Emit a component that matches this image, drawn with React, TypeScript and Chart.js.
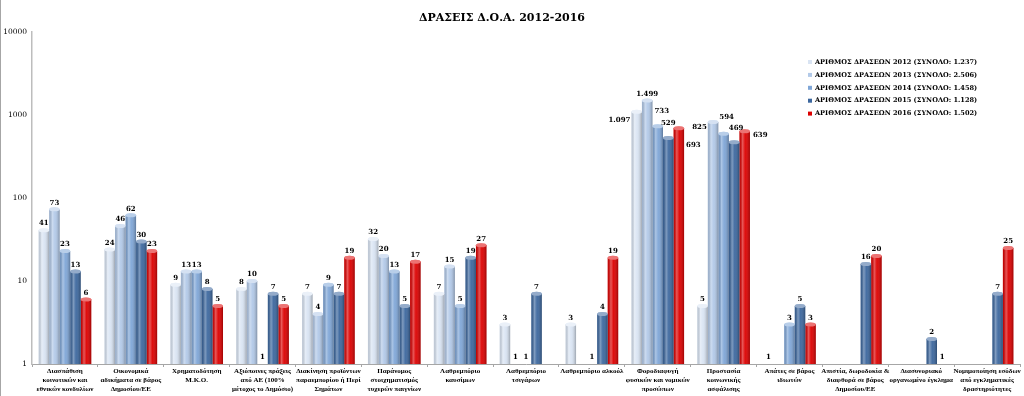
import React, { useEffect, useRef } from 'react';
import { Chart, registerables } from 'chart.js';

Chart.register(...registerables);

const title = 'ΔΡΑΣΕΙΣ Δ.Ο.Α. 2012-2016';

const categories: string[][] = [
  ['Διασπάθιση', 'κοινοτικών και', 'εθνικών κονδυλίων'],
  ['Οικονομικά', 'αδικήματα σε βάρος', 'Δημοσίου/ΕΕ'],
  ['Χρηματοδότηση', 'Μ.Κ.Ο.'],
  ['Αξιόποινες πράξεις', 'από ΑΕ (100%', 'μέτοχος το Δημόσιο)'],
  ['Διακίνηση προϊόντων', 'παραεμπορίου ή Περί', 'Σημάτων'],
  ['Παράνομος', 'στοιχηματισμός', 'τυχερών παιγνίων'],
  ['Λαθρεμπόριο', 'καυσίμων'],
  ['Λαθρεμπόριο', 'τσιγάρων'],
  ['Λαθρεμπόριο αλκοόλ'],
  ['Φοροδιαφυγή', 'φυσικών και νομικών', 'προσώπων'],
  ['Προστασία', 'κοινωνικής', 'ασφάλισης'],
  ['Απάτες σε βάρος', 'ιδιωτών'],
  ['Απιστία, δωροδοκία &', 'διαφθορά σε βάρος', 'Δημοσίου/ΕΕ'],
  ['Διασυνοριακό', 'οργανωμένο έγκλημα'],
  ['Νομιμοποίηση εσόδων', 'από εγκληματικές', 'δραστηριότητες'],
];

const seriesLabels = [
  'ΑΡΙΘΜΟΣ ΔΡΑΣΕΩΝ 2012 (ΣΥΝΟΛΟ: 1.237)',
  'ΑΡΙΘΜΟΣ ΔΡΑΣΕΩΝ 2013 (ΣΥΝΟΛΟ: 2.506)',
  'ΑΡΙΘΜΟΣ ΔΡΑΣΕΩΝ 2014 (ΣΥΝΟΛΟ: 1.458)',
  'ΑΡΙΘΜΟΣ ΔΡΑΣΕΩΝ 2015 (ΣΥΝΟΛΟ: 1.128)',
  'ΑΡΙΘΜΟΣ ΔΡΑΣΕΩΝ 2016 (ΣΥΝΟΛΟ: 1.502)',
];

const values2012 = [41, 24, 9, 8, 7, 32, 7, 3, 3, 1097, 5, 1, null, null, null];
const values2013 = [73, 46, 13, 10, 4, 20, 15, 1, null, 1499, 825, null, null, null, null];
const values2014 = [23, 62, 13, 1, 9, 13, 5, 1, 1, 733, 594, 3, null, null, null];
const values2015 = [13, 30, 8, 7, 7, 5, 19, 7, 4, 529, 469, 5, 16, 2, 7];
const values2016 = [6, 23, 5, 5, 19, 17, 27, null, 19, 693, 639, 3, 20, 1, 25];

const yTicks = [1, 10, 100, 1000, 10000];

const seriesColors = ['#d9e4f3', '#b2c9e8', '#7fa6d7', '#3c679e', '#dc0000'];

// label placement tweaks (style only), keyed by "category-dataset"
const labelPlacement: Record<string, { side: string; dx: number; dy: number }> = {
  '9-0': { side: 'left', dx: -1, dy: 9 },
  '9-2': { side: 'top', dx: 4, dy: -12 },
  '9-3': { side: 'top', dx: 0, dy: -11 },
  '9-4': { side: 'right', dx: 2, dy: 17 },
  '10-1': { side: 'left', dx: -1, dy: 5 },
  '10-2': { side: 'top', dx: 3, dy: -13 },
  '10-3': { side: 'top', dx: 2, dy: -11 },
  '10-4': { side: 'right', dx: 3, dy: 4 },
};

const fmt = (v: number) => String(v).replace(/\B(?=(\d{3})+(?!\d))/g, '.');

const decorPlugin = {
  id: 'decor',
  afterDatasetsDraw(chart: any) {
    const ctx = chart.ctx as CanvasRenderingContext2D;
    const area = chart.chartArea;
    // cylinder shading
    chart.data.datasets.forEach((ds: any, di: number) => {
      const meta = chart.getDatasetMeta(di);
      meta.data.forEach((el: any, i: number) => {
        const v = ds.data[i];
        if (v == null) return;
        const { x, y, base, width } = el.getProps(['x', 'y', 'base', 'width'], true);
        const h = base - y;
        if (h < 1) return;
        const l = x - width / 2;
        ctx.save();
        const g = ctx.createLinearGradient(l, 0, l + width, 0);
        g.addColorStop(0, 'rgba(0,0,0,0.10)');
        g.addColorStop(0.3, 'rgba(255,255,255,0.35)');
        g.addColorStop(0.55, 'rgba(255,255,255,0.05)');
        g.addColorStop(1, 'rgba(0,0,0,0.28)');
        ctx.fillStyle = g;
        ctx.fillRect(l, y, width, h);
        ctx.beginPath();
        ctx.ellipse(x, y, width / 2, 2, 0, 0, Math.PI * 2);
        ctx.fillStyle = ds.backgroundColor;
        ctx.fill();
        ctx.fillStyle = 'rgba(255,255,255,0.45)';
        ctx.fill();
        ctx.restore();
      });
    });
    // data labels
    ctx.save();
    ctx.font = 'bold 7px "DejaVu Serif"';
    ctx.fillStyle = '#000';
    chart.data.datasets.forEach((ds: any, di: number) => {
      const meta = chart.getDatasetMeta(di);
      meta.data.forEach((el: any, i: number) => {
        const v = ds.data[i];
        if (v == null) return;
        const { x, y, width } = el.getProps(['x', 'y', 'width'], true);
        const p = labelPlacement[`${i}-${di}`];
        const text = fmt(v);
        if (!p) {
          ctx.textAlign = 'center';
          ctx.textBaseline = 'bottom';
          ctx.fillText(text, x, y - 3);
        } else if (p.side === 'top') {
          ctx.textAlign = 'center';
          ctx.textBaseline = 'bottom';
          ctx.fillText(text, x + p.dx, y + p.dy);
        } else if (p.side === 'left') {
          ctx.textAlign = 'right';
          ctx.textBaseline = 'middle';
          ctx.fillText(text, x - width / 2 + p.dx, y + p.dy);
        } else {
          ctx.textAlign = 'left';
          ctx.textBaseline = 'middle';
          ctx.fillText(text, x + width / 2 + p.dx, y + p.dy);
        }
      });
    });
    ctx.restore();
    // legend
    ctx.save();
    ctx.font = 'bold 6.6px "DejaVu Serif"';
    ctx.textAlign = 'left';
    ctx.textBaseline = 'middle';
    chart.data.datasets.forEach((ds: any, di: number) => {
      const yy = 62 + di * 12.9;
      const xx = area.right - 212;
      ctx.fillStyle = ds.backgroundColor;
      ctx.fillRect(xx, yy - 2, 4, 4);
      ctx.fillStyle = '#000';
      ctx.fillText(ds.label, xx + 7, yy);
    });
    ctx.restore();
    // title
    ctx.save();
    ctx.font = 'bold 11px "DejaVu Serif"';
    ctx.fillStyle = '#000';
    ctx.textAlign = 'center';
    ctx.textBaseline = 'middle';
    ctx.fillText(title, 502, 18);
    ctx.restore();
    // left border
    ctx.save();
    ctx.fillStyle = '#a6a6a6';
    ctx.fillRect(0, 0, 1, chart.height);
    ctx.restore();
  },
};

export default function App() {
  const ref = useRef<HTMLCanvasElement>(null);
  useEffect(() => {
    document.body.style.margin = '0';
    const series = [values2012, values2013, values2014, values2015, values2016];
    const chart = new Chart(ref.current as HTMLCanvasElement, {
      type: 'bar',
      data: {
        labels: categories,
        datasets: series.map((d, i) => ({
          label: seriesLabels[i],
          data: d,
          backgroundColor: seriesColors[i],
          borderWidth: 0,
          categoryPercentage: 0.8,
          barPercentage: 1.0,
        })),
      },
      options: {
        responsive: false,
        animation: false,
        layout: { padding: { top: 32, right: 4, left: 0, bottom: 0 } },
        plugins: {
          legend: { display: false },
          title: { display: false },
          tooltip: { enabled: false },
        },
        scales: {
          x: {
            grid: {
              display: true,
              drawOnChartArea: false,
              drawTicks: true,
              tickLength: 3,
              color: '#a6a6a6',
              offset: true,
            },
            border: { display: true, color: '#a6a6a6' },
            ticks: {
              autoSkip: false,
              maxRotation: 0,
              minRotation: 0,
              padding: 0,
              color: '#000',
              font: { family: 'Liberation Serif', size: 7, weight: 'bold', lineHeight: 1.25 },
            },
            afterFit: (s: any) => {
              s.height = 32;
            },
          },
          y: {
            type: 'logarithmic',
            min: 1,
            max: 10000,
            grid: { display: true, drawOnChartArea: false, drawTicks: false },
            border: { display: true, color: '#bdbdbd', width: 1.5 },
            afterBuildTicks: (s: any) => {
              s.ticks = yTicks.map((v) => ({ value: v }));
            },
            ticks: {
              padding: 5,
              color: '#000',
              font: { family: 'DejaVu Serif', size: 7.5 },
              callback: (v: any) => String(v),
            },
            afterFit: (s: any) => {
              s.width = 32;
            },
          },
        },
      } as any,
      plugins: [decorPlugin],
    });
    return () => chart.destroy();
  }, []);
  return <canvas ref={ref} width={1024} height={396} />;
}
